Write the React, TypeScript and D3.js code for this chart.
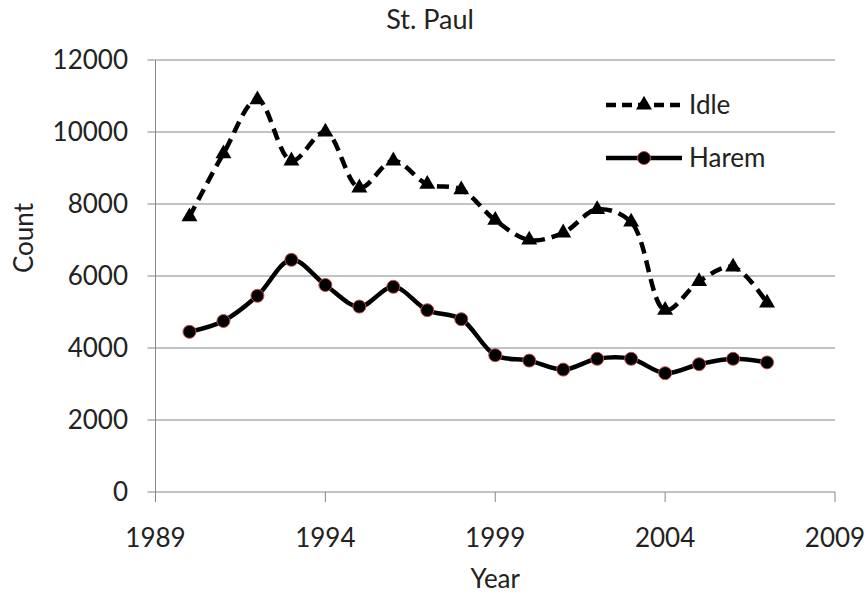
import * as d3 from 'd3'

// St. Paul counts
const years = [1990, 1991, 1992, 1993, 1994, 1995, 1996, 1997, 1998, 1999, 2000, 2001, 2002, 2003, 2004, 2005, 2006, 2007]
const idle = [7650, 9400, 10900, 9200, 10000, 8450, 9200, 8550, 8400, 7550, 7000, 7200, 7850, 7500, 5050, 5850, 6250, 5250]
const harem = [4450, 4750, 5450, 6450, 5750, 5150, 5700, 5050, 4800, 3800, 3650, 3400, 3700, 3700, 3300, 3550, 3700, 3600]
const xTicks = [1989, 1994, 1999, 2004, 2009]
const yTicks = [0, 2000, 4000, 6000, 8000, 10000, 12000]

const W = 867
const H = 596
const FONT = 'Lato, "Open Sans", sans-serif'
const GRID = '#868686'
const MARKER_EDGE = '#c0504d'

export default function App() {
  const x = d3.scaleLinear().domain([1989, 2009]).range([155.5, 835])
  const y = d3.scaleLinear().domain([0, 12000]).range([492, 60])

  const line = d3.line<number>()
    .x((_, i) => x(years[i]))
    .y(d => y(d))
    .curve(d3.curveCatmullRom.alpha(0.5))

  const tri = d3.symbol().type(d3.symbolTriangle).size(110)

  return (
    <svg width={W} height={H} style={{ position: 'absolute', left: 0, top: 0, background: '#fff' }}>
      <rect width={W} height={H} fill="#fff" />

      {/* gridlines */}
      {yTicks.filter(t => t > 0).map(t => (
        <line key={t} x1={x(1989)} x2={x(2009)} y1={y(t)} y2={y(t)} stroke={GRID} strokeWidth={1} />
      ))}

      {/* axes */}
      <line x1={x(1989)} x2={x(1989)} y1={y(0)} y2={y(12000)} stroke={GRID} />
      <line x1={x(1989)} x2={x(2009)} y1={y(0)} y2={y(0)} stroke={GRID} />
      {yTicks.map(t => (
        <g key={t}>
          <line x1={x(1989) - 8} x2={x(1989)} y1={y(t)} y2={y(t)} stroke={GRID} />
          <text x={128} y={y(t)} dy="0.36em" textAnchor="end" fontFamily={FONT} fontSize={26} fill="#222">
            {t}
          </text>
        </g>
      ))}
      {xTicks.map(t => (
        <g key={t}>
          <line x1={x(t)} x2={x(t)} y1={y(0)} y2={y(0) + 10} stroke={GRID} />
          <text x={x(t)} y={538} dy="0.36em" textAnchor="middle" fontFamily={FONT} fontSize={26} fill="#222">
            {t}
          </text>
        </g>
      ))}

      {/* titles */}
      <text x={430} y={29} textAnchor="middle" fontFamily={FONT} fontSize={27} fill="#222">St. Paul</text>
      <text x={x(1999)} y={588} textAnchor="middle" fontFamily={FONT} fontSize={26} fill="#222">Year</text>
      <text transform={`translate(33,238) rotate(-90)`} textAnchor="middle" fontFamily={FONT} fontSize={26} fill="#222">Count</text>

      {/* series */}
      <path d={line(idle) ?? ''} fill="none" stroke="#000" strokeWidth={4.5} strokeDasharray="12 7" />
      <path d={line(harem) ?? ''} fill="none" stroke="#000" strokeWidth={4.5} />

      {idle.map((v, i) => (
        <path key={i} d={tri() ?? ''} transform={`translate(${x(years[i])},${y(v)})`} fill="#000" />
      ))}
      {harem.map((v, i) => (
        <circle key={i} cx={x(years[i])} cy={y(v)} r={6.5} fill="#000" stroke={MARKER_EDGE} strokeWidth={1} />
      ))}

      {/* legend */}
      <g>
        <line x1={606} x2={682} y1={105} y2={105} stroke="#000" strokeWidth={4.5} strokeDasharray="10 6" />
        <path d={tri() ?? ''} transform="translate(644,105)" fill="#000" />
        <text x={689} y={105} dy="0.36em" fontFamily={FONT} fontSize={26} fill="#222">Idle</text>
        <line x1={606} x2={682} y1={158} y2={158} stroke="#000" strokeWidth={4.5} />
        <circle cx={644} cy={158} r={6.5} fill="#000" stroke={MARKER_EDGE} strokeWidth={1} />
        <text x={689} y={158} dy="0.36em" fontFamily={FONT} fontSize={26} fill="#222">Harem</text>
      </g>
    </svg>
  )
}
